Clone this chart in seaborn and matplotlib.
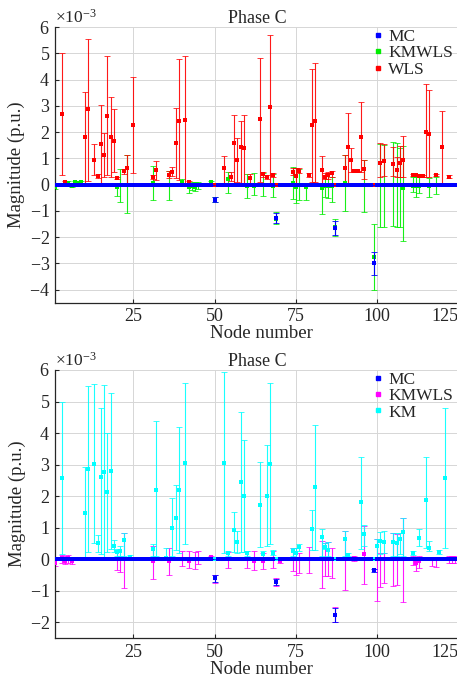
import numpy as np
import pandas as pd
import matplotlib
matplotlib.use("Agg")
import matplotlib.pyplot as plt
from matplotlib.ticker import MultipleLocator, ScalarFormatter, FixedLocator
from matplotlib.lines import Line2D
import seaborn as sns

N_NODES = 128
nodes = np.arange(1, N_NODES + 1)
SCALE = 1e-3  # all magnitudes below are given in units of 1e-3 p.u.

# ---------------- upper panel: MC / KMWLS / WLS ----------------
mc_top_nodes = [50, 69, 87, 99]
mc_top_mean = [-0.58, -1.28, -1.66, -3.00]
mc_top_low = [-0.68, -1.47, -1.91, -3.43]
mc_top_high = [-0.48, -1.09, -1.40, -2.55]

kmwls_top_nodes = [1, 5, 6, 7, 8, 9, 20, 21, 23, 31, 36, 40, 42, 43, 44, 45, 49,
                   50, 54, 60, 62, 65, 68, 69, 74, 75, 76, 78, 83, 84, 85, 86,
                   87, 90, 96, 99, 101, 102, 105, 106, 107, 108, 111, 112, 113,
                   116, 118]
kmwls_top_mean = [-0.11, 0.06, -0.05, 0.08, 0.05, 0.10, -0.10, 0.00, 0.00, 0.05,
                  0.00, 0.10, -0.10, -0.05, -0.10, 0.00, 0.10, -0.58, 0.20,
                  -0.05, -0.05, 0.00, -0.05, -1.30, 0.05, -0.11, 0.00, -0.08,
                  -0.14, -0.05, -0.05, -0.05, -1.62, 0.07, 0.00, -2.76, 0.00,
                  0.00, 0.00, 0.00, 0.00, -0.14, -0.05, -0.05, -0.05, -0.05, 0.00]
kmwls_top_low = [-0.18, 0.00, -0.10, 0.02, 0.00, 0.03, -0.45, -0.65, -1.10, -0.58,
                 -0.60, 0.00, -0.33, -0.20, -0.25, -0.15, 0.00, -0.68, -0.33,
                 -0.52, -0.40, -0.43, -0.46, -1.50, -0.56, -0.71, -0.58, -0.58,
                 -1.12, -0.46, -0.52, -0.65, -1.95, -0.99, -1.06, -4.00, -1.60,
                 -1.62, -1.57, -1.60, -1.60, -2.13, -0.30, -0.46, -0.33, -0.46,
                 -0.36]
kmwls_top_high = [-0.04, 0.12, 0.00, 0.14, 0.10, 0.15, 0.05, 0.60, 1.12, 0.70,
                  0.50, 0.20, 0.00, 0.10, 0.10, 0.10, 0.15, -0.48, 0.49, 0.40,
                  0.43, 0.43, 0.40, -1.05, 0.68, 0.62, 0.58, 0.05, 0.05, 0.35,
                  0.43, 0.30, -1.30, 1.13, 0.94, -1.50, 1.55, 1.50, 1.63, 1.57,
                  1.40, 1.47, 0.30, 0.30, 0.30, 0.25, 0.30]

wls_nodes = [3, 4, 10, 11, 13, 14, 15, 16, 17, 18, 19, 20, 22, 23, 25, 31, 32,
             36, 37, 38, 39, 41, 42, 53, 55, 56, 57, 58, 59, 61, 64, 65, 66, 67,
             68, 74, 75, 76, 79, 80, 81, 83, 84, 85, 86, 90, 91, 92, 93, 94,
             95, 96, 101, 102, 105, 106, 107, 108, 111, 112, 113, 114, 115,
             116, 118, 120, 122]
wls_mean = [2.67, 0.08, 1.80, 2.86, 0.94, 0.33, 1.53, 1.13, 2.62, 1.83, 1.67,
            0.24, 0.50, 0.62, 2.28, 0.30, 0.56, 0.37, 0.49, 1.57, 2.42, 2.46,
            0.08, 0.62, 0.30, 1.57, 0.94, 1.44, 1.38, 0.24, 2.50, 0.40, 0.27,
            2.94, 0.37, 0.49, 0.33, 0.53, 0.37, 2.27, 2.42, 0.56, 0.30, 0.37,
            0.43, 0.65, 1.44, 0.94, 0.50, 0.50, 1.83, 0.58, 0.81, 0.91, 0.79,
            0.56, 0.81, 0.94, 0.37, 0.37, 0.34, 0.33, 1.99, 1.93, 0.37, 1.42,
            0.30]
wls_low = [0.37, 0.03, 0.05, 0.15, 0.37, 0.25, 0.05, 0.30, 0.37, 0.30, 0.49,
           0.20, 0.40, 0.05, 0.43, 0.22, 0.18, 0.25, 0.33, 0.24, 0.18, 0.05,
           0.03, 0.05, 0.12, 0.05, 0.08, 0.05, 0.05, 0.05, 0.11, 0.30, 0.20,
           0.05, 0.28, 0.37, 0.05, 0.43, 0.28, 0.11, 0.11, 0.05, 0.20, 0.20,
           0.30, 0.05, 0.05, 0.49, 0.47, 0.47, 0.49, 0.20, 0.30, 0.33, 0.33,
           0.30, 0.30, 0.30, 0.34, 0.34, 0.31, 0.30, 0.30, 0.30, 0.34, 0.05,
           0.25]
wls_high = [5.00, 0.13, 3.54, 5.56, 1.53, 0.41, 3.03, 1.98, 4.89, 3.32, 2.86,
            0.28, 0.60, 1.13, 4.10, 0.38, 0.90, 0.50, 0.68, 2.90, 4.80, 4.89,
            0.13, 1.09, 0.49, 2.65, 1.76, 2.43, 2.65, 0.40, 4.84, 0.49, 0.35,
            5.69, 0.43, 0.62, 0.62, 0.62, 0.46, 4.40, 4.64, 1.09, 0.43, 0.49,
            0.53, 1.13, 2.74, 1.38, 0.53, 0.53, 3.16, 0.94, 1.57, 1.55, 1.44,
            1.06, 1.47, 1.85, 0.40, 0.40, 0.37, 0.36, 3.83, 3.60, 0.40, 2.81,
            0.35]

# ---------------- lower panel: MC / KMWLS / KM ----------------
mc_bot_nodes = [50, 69, 87, 99]
mc_bot_mean = [-0.60, -0.72, -1.75, -0.35]
mc_bot_low = [-0.72, -0.80, -2.00, -0.40]
mc_bot_high = [-0.50, -0.62, -1.53, -0.30]

kmwls_bot_nodes = [1, 3, 4, 5, 6, 20, 21, 22, 31, 36, 40, 42, 44, 45, 49, 50,
                   54, 60, 62, 65, 68, 69, 70, 74, 75, 76, 79, 83, 84, 85, 86,
                   87, 90, 93, 96, 100, 101, 102, 105, 106, 108, 111, 112, 113,
                   117, 118, 122, 123, 124]
kmwls_bot_mean = [-0.10, 0.05, -0.05, 0.05, -0.05, 0.00, 0.00, 0.00, -0.05,
                  -0.05, 0.00, -0.05, 0.00, 0.00, 0.08, -0.60, 0.00, 0.00,
                  -0.05, -0.05, 0.00, -0.72, -0.05, 0.00, 0.00, 0.00, 0.00,
                  0.00, 0.00, 0.00, 0.00, -1.75, 0.00, 0.05, 0.16, 0.00, 0.00,
                  0.00, 0.00, 0.00, 0.00, 0.00, -0.10, -0.05, 0.00, 0.00, 0.00,
                  0.00, 0.00]
kmwls_bot_low = [-0.20, -0.10, -0.15, -0.10, -0.15, -0.35, -0.40, -0.90, -0.61,
                 -0.51, -0.20, -0.26, -0.30, -0.16, 0.00, -0.75, -0.26, -0.26,
                 -0.34, -0.30, -0.26, -0.85, -0.13, -0.37, -0.48, -0.42, -0.42,
                 -0.90, -0.53, -0.53, -0.58, -2.00, -0.97, -0.05, -0.79, -1.32,
                 -0.88, -0.74, -0.83, -0.80, -1.34, -0.19, -0.37, -0.26, -0.21,
                 -0.23, -0.13, -0.13, -0.13]
kmwls_bot_high = [0.00, 0.15, 0.10, 0.15, 0.05, 0.30, 0.10, 0.85, 0.42, 0.37,
                  0.26, 0.26, 0.23, 0.26, 0.12, -0.50, 0.23, 0.26, 0.26, 0.21,
                  0.26, -0.60, 0.02, 0.37, 0.37, 0.21, 0.40, 0.58, 0.53, 0.55,
                  0.37, -1.50, 0.90, 0.10, 1.06, 0.63, 0.21, 0.21, 0.83, 0.80,
                  1.32, 0.10, 0.02, 0.10, 0.05, 0.08, 0.10, 0.10, 0.10]

km_nodes = [3, 10, 11, 13, 14, 15, 16, 17, 18, 19, 20, 21, 22, 24, 31, 32, 35,
            37, 38, 39, 41, 53, 54, 56, 57, 58, 59, 60, 64, 65, 66, 67, 68, 74,
            75, 76, 80, 81, 83, 84, 85, 90, 91, 95, 96, 100, 101, 102, 105,
            106, 107, 108, 111, 113, 115, 116, 119, 121]
km_mean = [2.57, 1.48, 2.86, 3.02, 0.53, 2.62, 2.77, 2.14, 2.80, 0.42, 0.23,
           0.26, 0.61, 0.08, 0.32, 2.20, 0.05, 1.00, 1.30, 2.19, 3.04, 3.05,
           0.19, 0.93, 0.55, 2.46, 2.00, 0.20, 1.72, 0.16, 2.00, 3.02, 0.21,
           0.26, 0.21, 0.40, 0.97, 2.30, 0.71, 0.39, 0.30, 0.66, 0.15, 1.82,
           0.79, 0.42, 0.58, 0.55, 0.55, 0.53, 0.63, 0.87, 0.21, 0.69, 1.87,
           0.37, 0.23, 2.59]
km_low = [0.16, 0.05, 0.23, 0.53, 0.23, 0.16, 0.02, 0.23, 0.34, 0.23, 0.10,
          0.10, 0.10, 0.03, 0.10, 0.10, 0.00, 0.10, 0.30, 0.20, 0.50, 0.19,
          0.10, 0.23, 0.20, 0.23, 0.23, 0.10, 0.40, 0.05, 0.42, 0.48, 0.13,
          0.10, 0.05, 0.26, 0.30, 0.30, 0.10, 0.32, 0.10, 0.10, 0.10, 0.34,
          0.42, 0.02, 0.16, 0.21, 0.10, 0.10, 0.16, 0.10, 0.13, 0.42, 0.35,
          0.26, 0.16, 0.37]
km_high = [5.00, 2.94, 5.50, 5.56, 0.76, 4.78, 5.52, 4.00, 5.26, 0.61, 0.32,
           0.42, 0.85, 0.13, 0.48, 4.39, 0.37, 1.93, 2.35, 4.18, 5.58, 5.93,
           0.25, 1.51, 0.90, 4.66, 3.78, 0.25, 3.09, 0.26, 3.62, 5.59, 0.30,
           0.37, 0.37, 0.48, 1.56, 4.27, 0.97, 0.53, 0.55, 0.90, 0.20, 3.23,
           1.09, 0.63, 0.87, 0.90, 0.85, 0.82, 0.85, 1.32, 0.26, 0.97, 3.25,
           0.58, 0.30, 4.81]

X_TICKS = [25, 50, 75, 100, 125]
C_MC = "#0000ff"
C_KMWLS_TOP = "#00ee00"
C_WLS = "#ff0000"
C_KMWLS_BOT = "#ff00ff"
C_KM = "#00ffff"
TEXT = "#262626"


def expand(idx, mean, low, high):
    """Full per-node arrays; nodes not listed sit on the zero baseline."""
    m = np.zeros(N_NODES)
    lo = np.zeros(N_NODES)
    hi = np.zeros(N_NODES)
    for n, a, b, c in zip(idx, mean, low, high):
        m[n - 1], lo[n - 1], hi[n - 1] = a, b, c
    frame = pd.DataFrame({"node": nodes, "value": m * SCALE})
    yerr = np.vstack([(m - lo) * SCALE, (hi - m) * SCALE])
    return frame, yerr


sns.set_theme(style="ticks")
plt.rcParams["font.family"] = ["Liberation Serif", "DejaVu Serif"]
plt.rcParams["mathtext.fontset"] = "custom"
plt.rcParams["mathtext.rm"] = "Liberation Serif"
plt.rcParams["mathtext.it"] = "Liberation Serif:italic"
plt.rcParams["mathtext.bf"] = "Liberation Serif:bold"

fig = plt.figure(figsize=(4.57, 6.78), dpi=100)
ax_top = fig.add_axes([0.1214, 0.5535, 0.9032, 0.4066])
ax_bot = fig.add_axes([0.1214, 0.0586, 0.9032, 0.3957])


def draw_panel(ax, series):
    # series = [MC, KMWLS, estimator]; the MC reference is layered on top
    mc, kw, est = series
    for z, (frame, yerr, color) in enumerate([kw, est]):
        ax.errorbar(frame["node"], frame["value"], yerr=yerr, fmt="none",
                    ecolor=color, elinewidth=0.8, capsize=2.2, capthick=0.6,
                    alpha=0.9, zorder=2 + z * 0.1)
    for z, (frame, yerr, color) in enumerate([kw, est, mc]):
        sns.scatterplot(data=frame, x="node", y="value", color=color,
                        marker="s", s=6, linewidth=0, ax=ax,
                        zorder=3 + z * 0.1, legend=False)
    frame, yerr, color = mc
    ax.errorbar(frame["node"], frame["value"], yerr=yerr, fmt="none",
                ecolor=color, elinewidth=0.8, capsize=2.2, capthick=0.6,
                zorder=4)


def style_axes(ax, ylim, labels, colors):
    ax.set_xlim(1, 128)
    ax.set_ylim(ylim[0] * SCALE, ylim[1] * SCALE)
    ax.xaxis.set_major_locator(FixedLocator(X_TICKS))
    ax.yaxis.set_major_locator(MultipleLocator(1 * SCALE))
    fmt = ScalarFormatter(useMathText=True)
    fmt.set_powerlimits((0, 0))
    ax.yaxis.set_major_formatter(fmt)
    ax.yaxis.get_offset_text().set_fontsize(12.5)
    ax.yaxis.get_offset_text().set_color(TEXT)
    ax.grid(True, color="#d6d6d6", linewidth=0.7)
    ax.set_axisbelow(True)
    for side in ("top", "right"):
        ax.spines[side].set_visible(False)
    for side in ("left", "bottom"):
        ax.spines[side].set_color(TEXT)
        ax.spines[side].set_linewidth(0.9)
    ax.tick_params(direction="in", length=3, width=0.8, color=TEXT,
                   labelsize=13, labelcolor=TEXT, pad=4)
    ax.set_xlabel("Node number", fontsize=13.5, color=TEXT, labelpad=0)
    ax.set_ylabel("Magnitude (p.u.)", fontsize=13.5, color=TEXT, labelpad=3)
    ax.set_title("Phase C", fontsize=13, color=TEXT, pad=3)
    ax.title.set_x(0.488)
    fig.canvas.draw()
    ticklabels = ax.get_xticklabels()
    ticklabels[-1].set_horizontalalignment("right")
    handles = [Line2D([], [], marker="s", linestyle="none", color=c,
                      markersize=2.5) for c in colors]
    ax.legend(handles, labels, loc="upper left", bbox_to_anchor=(0.762, 1.005),
              frameon=False, fontsize=12.5, handlelength=0.5,
              handletextpad=0.35, labelspacing=0.0, borderpad=0.2,
              borderaxespad=0)


# upper panel
f_mc, e_mc = expand(mc_top_nodes, mc_top_mean, mc_top_low, mc_top_high)
f_kw, e_kw = expand(kmwls_top_nodes, kmwls_top_mean, kmwls_top_low, kmwls_top_high)
f_w, e_w = expand(wls_nodes, wls_mean, wls_low, wls_high)
draw_panel(ax_top, [(f_mc, e_mc, C_MC), (f_kw, e_kw, C_KMWLS_TOP), (f_w, e_w, C_WLS)])
style_axes(ax_top, (-4.5, 6), ["MC", "KMWLS", "WLS"], [C_MC, C_KMWLS_TOP, C_WLS])

# lower panel
f_mc2, e_mc2 = expand(mc_bot_nodes, mc_bot_mean, mc_bot_low, mc_bot_high)
f_kw2, e_kw2 = expand(kmwls_bot_nodes, kmwls_bot_mean, kmwls_bot_low, kmwls_bot_high)
f_km, e_km = expand(km_nodes, km_mean, km_low, km_high)
draw_panel(ax_bot, [(f_mc2, e_mc2, C_MC), (f_kw2, e_kw2, C_KMWLS_BOT), (f_km, e_km, C_KM)])
style_axes(ax_bot, (-2.5, 6), ["MC", "KMWLS", "KM"], [C_MC, C_KMWLS_BOT, C_KM])

fig.savefig("out.png", dpi=100)
